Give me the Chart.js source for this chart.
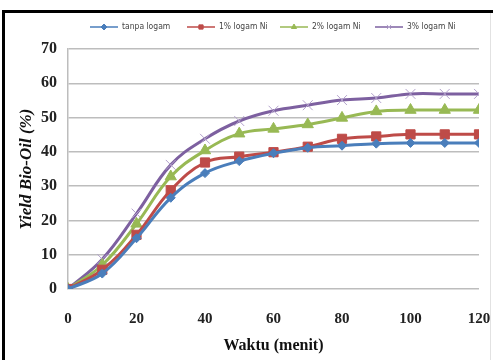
<!DOCTYPE html>
<html lang="id">
<head>
<meta charset="UTF-8">
<title>Yield Bio-Oil</title>
<script src="https://cdn.jsdelivr.net/npm/chart.js"></script>
<style>
    body { margin: 0; background: #fff; }
    .wrap { position: relative; width: 493px; height: 360px; }
    .frame-top { position: absolute; left: 2px; right: 0; top: 10px; height: 3px; background: #000; }
    .frame-left { position: absolute; left: 2px; width: 3px; top: 10px; bottom: 0; background: #000; }
    .frame-right { position: absolute; left: 490px; width: 1px; top: 13px; bottom: 0; background: #e2e2e2; }
</style>
</head>
<body>
<div class="wrap">
    <canvas id="chart" width="493" height="360"></canvas>
    <div class="frame-top"></div>
    <div class="frame-left"></div>
    <div class="frame-right"></div>
</div>
<script>
// waktu (menit)
const waktu = [0, 10, 20, 30, 40, 50, 60, 70, 80, 90, 100, 110, 120];
const seriesNames = ['tanpa logam', '1% logam Ni', '2% logam Ni', '3% logam Ni'];
const tanpaLogam = [0, 4.5, 14.8, 26.6, 33.8, 37.3, 39.6, 41.2, 41.8, 42.4, 42.6, 42.6, 42.6];
const logam1 = [0, 5.6, 15.8, 28.8, 36.9, 38.6, 39.9, 41.5, 43.8, 44.5, 45.1, 45.1, 45.1];
const logam2 = [0, 7.0, 19.0, 32.8, 40.4, 45.3, 46.7, 48.0, 49.9, 51.8, 52.2, 52.2, 52.2];
const logam3 = [0, 8.7, 22.0, 36.2, 43.8, 49.0, 52.0, 53.6, 55.1, 55.7, 56.9, 56.9, 56.9];
const yTicks = [0, 10, 20, 30, 40, 50, 60, 70];

const colors = ['#4a7ebb', '#be4b48', '#98b954', '#7d60a0'];
const styles = ['rectRot', 'rect', 'triangle', 'crossRot'];
const radii = [4.5, 6.5, 6.5, 7];

function makeSet(i, values) {
    return {
        label: seriesNames[i],
        data: waktu.map((x, k) => ({ x: x, y: values[k] })),
        borderColor: colors[i],
        backgroundColor: colors[i],
        borderWidth: 3,
        pointStyle: styles[i],
        pointRadius: radii[i],
        pointBorderWidth: 1,
        pointBorderColor: i === 3 ? '#b3a2cc' : colors[i],
        pointBackgroundColor: colors[i],
        tension: 0.4
    };
}

// legend drawn like Excel: short line with marker, then label
const lineLegend = {
    id: 'lineLegend',
    afterDraw(chart) {
        const ctx = chart.ctx;
        const starts = [90, 187, 280, 375];
        const y = 27;
        ctx.save();
        chart.data.datasets.forEach((ds, i) => {
            const x0 = starts[i];
            ctx.strokeStyle = ds.borderColor;
            ctx.lineWidth = 1.5;
            ctx.beginPath();
            ctx.moveTo(x0, y);
            ctx.lineTo(x0 + 28, y);
            ctx.stroke();
            ctx.fillStyle = ds.backgroundColor;
            ctx.strokeStyle = ds.pointBorderColor;
            ctx.lineWidth = 1;
            Chart.helpers.drawPoint(ctx, { pointStyle: ds.pointStyle, radius: 3, borderWidth: 1 }, x0 + 14, y);
            ctx.fillStyle = '#444';
            ctx.font = '8.5px "Liberation Sans Narrow", "DejaVu Sans Condensed", sans-serif';
            ctx.textBaseline = 'middle';
            ctx.fillText(ds.label, x0 + 32, y);
        });
        ctx.restore();
    }
};

new Chart(document.getElementById('chart').getContext('2d'), {
    type: 'line',
    data: {
        datasets: [
            makeSet(0, tanpaLogam),
            makeSet(1, logam1),
            makeSet(2, logam2),
            makeSet(3, logam3)
        ]
    },
    options: {
        responsive: false,
        animation: false,
        layout: { padding: { left: 0, right: 14, top: 49, bottom: 0 } },
        plugins: {
            legend: { display: false },
            tooltip: { enabled: false }
        },
        scales: {
            x: {
                type: 'linear',
                min: 0,
                max: 120,
                afterBuildTicks: s => { s.ticks = waktu.filter(v => v % 20 === 0).map(v => ({ value: v })); },
                grid: { display: false, drawTicks: false },
                border: { display: false },
                ticks: {
                    color: '#222',
                    padding: 21,
                    maxRotation: 0,
                    font: { family: '"Liberation Serif", serif', size: 15, weight: 'bold' }
                },
                title: {
                    display: true,
                    text: 'Waktu (menit)',
                    color: '#111',
                    padding: { top: 0, bottom: 5 },
                    font: { family: '"Liberation Serif", serif', size: 16, weight: 'bold' }
                },
                afterFit: s => { s.height = 71; s.paddingLeft = 0; s.paddingRight = 0; }
            },
            y: {
                min: 0,
                max: 70,
                afterBuildTicks: s => { s.ticks = yTicks.map(v => ({ value: v })); },
                grid: { color: '#bdbdbd', lineWidth: 1.5, drawTicks: false },
                border: { color: '#bdbdbd', width: 1.5 },
                ticks: {
                    color: '#222',
                    padding: 11,
                    font: { family: '"Liberation Serif", serif', size: 16, weight: 'bold' }
                },
                title: {
                    display: true,
                    text: 'Yield Bio-Oil (%)',
                    color: '#111',
                    padding: { top: 16, bottom: 0 },
                    font: { family: '"Liberation Serif", serif', size: 17, weight: 'bold', style: 'italic' }
                },
                afterFit: s => { s.width = 68; s.paddingTop = 0; s.paddingBottom = 0; }
            }
        }
    },
    plugins: [lineLegend]
});
</script>
</body>
</html>
